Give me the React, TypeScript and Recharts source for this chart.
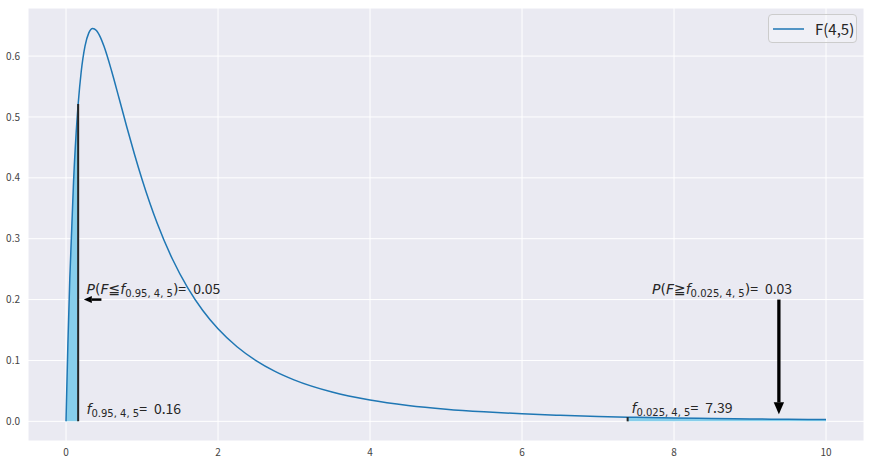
import React from 'react';
import {
    ComposedChart, Line, Area, XAxis, YAxis, CartesianGrid, ReferenceLine, ReferenceDot,
} from 'recharts';

// F(4,5) density
const xValues = [0, 0.025, 0.05, 0.1, 0.15, 0.16, 0.2, 0.25, 0.3, 0.35, 0.4, 0.45, 0.5, 0.6, 0.7, 0.8, 0.9, 1.0,
    1.2, 1.4, 1.6, 1.8, 2.0, 2.25, 2.5, 2.75, 3.0, 3.5, 4.0, 4.5, 5.0, 5.5, 6.0, 6.5, 7.0, 7.39, 7.5, 8.0, 8.5,
    9.0, 9.5, 10];
const density = [0, 0.128, 0.2347, 0.3961, 0.5044, 0.5211, 0.5743, 0.6164, 0.6381, 0.6455, 0.6422, 0.6316,
    0.616, 0.5756, 0.5299, 0.4836, 0.4391, 0.3977, 0.3253, 0.2666, 0.2196, 0.182, 0.152, 0.1225, 0.0998, 0.0821,
    0.0682, 0.0482, 0.0351, 0.0262, 0.02, 0.0156, 0.0123, 0.0099, 0.008, 0.00689, 0.00661, 0.00549, 0.0046,
    0.00389, 0.00331, 0.00284];

const xTicks = [0, 2, 4, 6, 8, 10];
const yTicks = [0, 0.1, 0.2, 0.3, 0.4, 0.5, 0.6];

const lowerCrit = 0.16;
const upperCrit = 7.39;
const lowerProb = '0.05';
const upperProb = '0.03';

const data = xValues.map((x, i) => ({ x, y: density[i] }));
const lowerTail = data.filter(d => d.x <= lowerCrit);
const upperTail = data.filter(d => d.x >= upperCrit);
const lowerCritY = density[xValues.indexOf(lowerCrit)];
const upperCritY = density[xValues.indexOf(upperCrit)];

const MATH = '"DejaVu Sans", sans-serif';
const TEXT = '"Noto Sans CJK JP", "DejaVu Sans", sans-serif';
const INK = '#262626';

const Arrow = (props: any) => {
    const { x1, y1, x2, y2, shaft, head, headLen } = props;
    const dx = x2 - x1;
    const dy = y2 - y1;
    const len = Math.sqrt(dx * dx + dy * dy) || 1;
    const ux = dx / len;
    const uy = dy / len;
    const bx = x2 - ux * headLen;
    const by = y2 - uy * headLen;
    const px = -uy * head;
    const py = ux * head;
    return (
        <g>
            <line x1={x1} y1={y1} x2={bx} y2={by} stroke="#000" strokeWidth={shaft} />
            <polygon points={`${x2},${y2} ${bx + px},${by + py} ${bx - px},${by - py}`} fill="#000" />
        </g>
    );
};

const ProbLabel = (rel: string, sub: string, value: string) => (props: any) => (
    <text x={props.cx} y={props.cy} fontSize={14} fill={INK} xmlSpace="preserve">
        <tspan fontFamily={MATH} fontStyle="italic">P</tspan>
        <tspan fontFamily={MATH}>(</tspan>
        <tspan fontFamily={MATH} fontStyle="italic">F</tspan>
        <tspan fontFamily={MATH}>{rel}</tspan>
        <tspan fontFamily={MATH} fontStyle="italic">f</tspan>
        <tspan fontFamily={MATH} fontSize={10} dy={3}>{sub}</tspan>
        <tspan fontFamily={MATH} dy={-3}>)</tspan>
        <tspan fontFamily={TEXT}>{`=\u2002${value}`}</tspan>
    </text>
);

const CritLabel = (sub: string, value: string) => (props: any) => (
    <text x={props.cx} y={props.cy} fontSize={14} fill={INK} xmlSpace="preserve">
        <tspan fontFamily={MATH} fontStyle="italic">f</tspan>
        <tspan fontFamily={MATH} fontSize={10} dy={3}>{sub}</tspan>
        <tspan fontFamily={TEXT} dy={-3}>{`=\u2002${value}`}</tspan>
    </text>
);

const LegendBox = () => (
    <div style={{
        position: 'absolute', left: 768, top: 14, width: 89, height: 29, boxSizing: 'border-box',
        border: '1px solid #cccccc', borderRadius: 4, background: 'rgba(255,255,255,0.3)', display: 'flex',
        alignItems: 'center', fontFamily: TEXT, fontSize: 15, color: INK,
    }}>
        <svg width={46} height={27}>
            <line x1={4} y1={14} x2={35} y2={14} stroke="#1f77b4" strokeWidth={1.5} />
        </svg>
        <span>F(4,5)</span>
    </div>
);

const App: React.FC = () => {
    return (
        <div style={{ position: 'relative', width: 871, height: 465, background: '#ffffff' }}>
            <style>{'body { margin: 0; }'}</style>
            <ComposedChart width={871} height={465} data={data} margin={{ top: 8, right: 7, bottom: 0, left: 0 }}>
                <CartesianGrid fill="#EAEAF2" stroke="#ffffff" strokeWidth={1} />
                <XAxis
                    dataKey="x"
                    type="number"
                    domain={[-0.5, 10.5]}
                    ticks={xTicks}
                    height={24}
                    tickLine={false}
                    axisLine={false}
                    tickSize={0}
                    tickMargin={8}
                    tick={{ fontSize: 10, fill: '#444444', fontFamily: TEXT }}
                />
                <YAxis
                    type="number"
                    domain={[-0.0323, 0.679]}
                    ticks={yTicks}
                    width={28}
                    tickLine={false}
                    axisLine={false}
                    tickSize={0}
                    tickMargin={8}
                    tickFormatter={(v: number) => v.toFixed(1)}
                    tick={{ fontSize: 10, fill: '#444444', fontFamily: TEXT }}
                />
                <Area data={lowerTail} dataKey="y" type="monotone" fill="#87CEEB" fillOpacity={1} stroke="none"
                    baseValue={0} isAnimationActive={false} />
                <Area data={upperTail} dataKey="y" type="monotone" fill="#87CEEB" fillOpacity={1} stroke="none"
                    baseValue={0} isAnimationActive={false} />
                <Line dataKey="y" type="monotone" stroke="#1f77b4" strokeWidth={1.5} dot={false}
                    activeDot={false} isAnimationActive={false} name="F(4,5)" />
                <ReferenceLine segment={[{ x: lowerCrit, y: 0 }, { x: lowerCrit, y: lowerCritY }]}
                    stroke="#262626" strokeWidth={2} />
                <ReferenceLine segment={[{ x: upperCrit, y: 0 }, { x: upperCrit, y: upperCritY }]}
                    stroke="#262626" strokeWidth={2} />
                <ReferenceLine segment={[{ x: 0.466, y: 0.2 }, { x: 0.234, y: 0.2 }]}
                    shape={(p: any) => <Arrow {...p} shaft={2.5} head={3.5} headLen={8} />} />
                <ReferenceLine segment={[{ x: 9.38, y: 0.2 }, { x: 9.38, y: 0.0115 }]}
                    shape={(p: any) => <Arrow {...p} shaft={3.3} head={5.2} headLen={12} />} />
                <ReferenceDot x={0.27} y={0.21} r={0}
                    shape={ProbLabel('≦', '0.95, 4, 5', lowerProb)} />
                <ReferenceDot x={7.71} y={0.21} r={0}
                    shape={ProbLabel('≧', '0.025, 4, 5', upperProb)} />
                <ReferenceDot x={0.27} y={0.012} r={0}
                    shape={CritLabel('0.95, 4, 5', '0.16')} />
                <ReferenceDot x={7.44} y={0.014} r={0}
                    shape={CritLabel('0.025, 4, 5', '7.39')} />
            </ComposedChart>
            <LegendBox />
        </div>
    );
};

export default App;
